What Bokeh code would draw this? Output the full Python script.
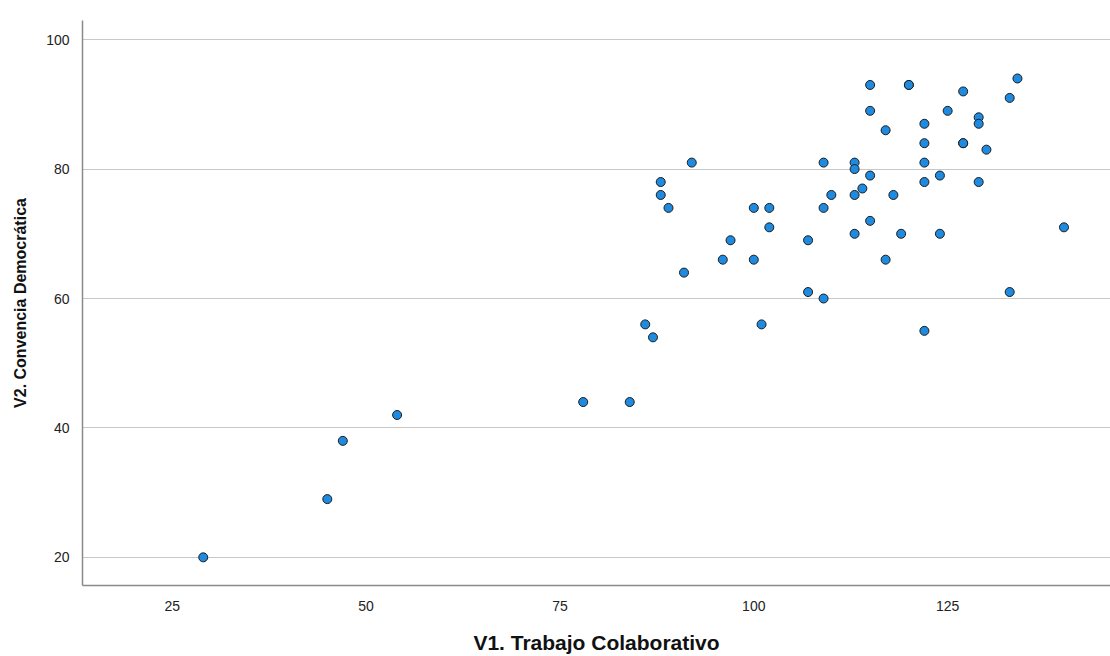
from bokeh.plotting import figure
from bokeh.models import Range1d, FixedTicker, ColumnDataSource
from bokeh.embed import file_html
from bokeh.resources import INLINE

# V1. Trabajo Colaborativo (x) and V2. Convencia Democrática (y)
v1 = [29, 45, 47, 54,
      78, 84, 86, 87, 88, 88, 89, 91, 92, 96, 97, 100, 100, 101, 102, 102,
      107, 107, 109, 109, 109, 110,
      113, 113, 113, 113, 114,
      115, 115, 115, 115, 117, 117, 118, 119, 120, 120,
      122, 122, 122, 122, 122, 124, 124, 125, 127, 127, 127,
      129, 129, 129, 130, 133, 133, 134, 140]
v2 = [20, 29, 38, 42,
      44, 44, 56, 54, 78, 76, 74, 64, 81, 66, 69, 74, 66, 56, 74, 71,
      69, 61, 81, 74, 60, 76,
      81, 80, 76, 70, 77,
      93, 89, 79, 72, 86, 66, 76, 70, 93, 93,
      87, 84, 81, 78, 55, 79, 70, 89, 92, 84, 84,
      88, 87, 78, 83, 91, 61, 94, 71]

x_ticks = [25, 50, 75, 100, 125]
y_ticks = [20, 40, 60, 80, 100]
x_title = "V1. Trabajo Colaborativo"
y_title = "V2. Convencia Democrática"

src = ColumnDataSource(data=dict(x=v1, y=v2))

p = figure(width=1110, height=656, output_backend="svg", toolbar_location=None,
           x_range=Range1d(13.43, 146.0), y_range=Range1d(15.65, 102.96),
           min_border_left=82, min_border_right=0, min_border_top=20,
           min_border_bottom=67)
p.outline_line_color = None
p.background_fill_color = "white"
p.border_fill_color = "white"

p.scatter("x", "y", source=src, size=9, fill_color="#1E8BE0",
          line_color="#1c1c1c", line_width=1)

p.xgrid.visible = False
p.ygrid.ticker = FixedTicker(ticks=y_ticks)
p.ygrid.grid_line_color = "#c8c8c8"
p.ygrid.grid_line_width = 1

for ax in (p.xaxis[0], p.yaxis[0]):
    ax.axis_line_color = "#8a8a8a"
    ax.axis_line_width = 1.5
    ax.major_tick_line_color = None
    ax.minor_tick_line_color = None
    ax.major_label_text_font = "Liberation Sans"
    ax.major_label_text_font_size = "14px"
    ax.major_label_text_color = "#222222"
    ax.axis_label_text_font = "Liberation Sans"
    ax.axis_label_text_font_style = "bold"
    ax.axis_label_text_color = "#111111"

p.xaxis[0].ticker = FixedTicker(ticks=x_ticks)
p.yaxis[0].ticker = FixedTicker(ticks=y_ticks)
p.xaxis[0].axis_label = x_title
p.yaxis[0].axis_label = y_title
p.xaxis[0].axis_label_text_font_size = "21px"
p.yaxis[0].axis_label_text_font_size = "16px"
p.xaxis[0].major_label_standoff = 9
p.yaxis[0].major_label_standoff = 7
p.xaxis[0].axis_label_standoff = 17
p.yaxis[0].axis_label_standoff = 14

open("out.html", "w").write(file_html(p, INLINE))
